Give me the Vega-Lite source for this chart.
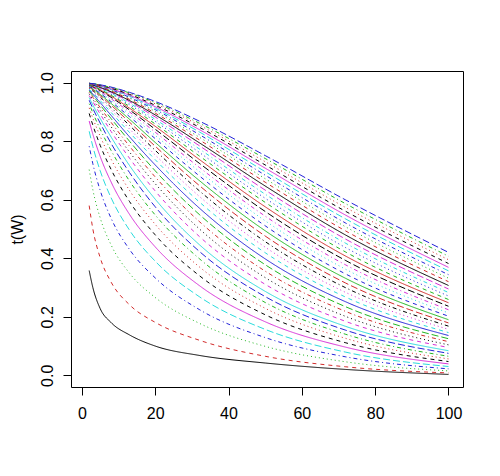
{
"$schema": "https://vega.github.io/schema/vega-lite/v6.json",
"width": 392, "height": 316,
"autosize": "none",
"padding": {"left": 71, "top": 71, "right": 37, "bottom": 89},
"background": "white",
"config": {"view": {"stroke": "black", "strokeWidth": 1}, "font": "Liberation Sans"},
"datasets": {"grid": [
{"c":1,"W":2,"t":0.358},{"c":1,"W":3,"t":0.300},{"c":1,"W":5,"t":0.228},{"c":1,"W":8,"t":0.180},{"c":1,"W":13,"t":0.138},{"c":1,"W":20,"t":0.100},{"c":1,"W":32,"t":0.068},{"c":1,"W":50,"t":0.042},{"c":1,"W":72,"t":0.020},{"c":1,"W":100,"t":0.003},
{"c":2,"W":2,"t":0.580},{"c":2,"W":3,"t":0.500},{"c":2,"W":5,"t":0.402},{"c":2,"W":8,"t":0.318},{"c":2,"W":13,"t":0.241},{"c":2,"W":20,"t":0.181},{"c":2,"W":32,"t":0.120},{"c":2,"W":50,"t":0.065},{"c":2,"W":72,"t":0.029},{"c":2,"W":100,"t":0.008},
{"c":3,"W":2,"t":0.703},{"c":3,"W":3,"t":0.634},{"c":3,"W":5,"t":0.538},{"c":3,"W":8,"t":0.445},{"c":3,"W":13,"t":0.349},{"c":3,"W":20,"t":0.266},{"c":3,"W":32,"t":0.178},{"c":3,"W":50,"t":0.099},{"c":3,"W":72,"t":0.046},{"c":3,"W":100,"t":0.015},
{"c":4,"W":2,"t":0.783},{"c":4,"W":3,"t":0.723},{"c":4,"W":5,"t":0.632},{"c":4,"W":8,"t":0.536},{"c":4,"W":13,"t":0.430},{"c":4,"W":20,"t":0.333},{"c":4,"W":32,"t":0.225},{"c":4,"W":50,"t":0.129},{"c":4,"W":72,"t":0.063},{"c":4,"W":100,"t":0.022},
{"c":5,"W":2,"t":0.834},{"c":5,"W":3,"t":0.782},{"c":5,"W":5,"t":0.699},{"c":5,"W":8,"t":0.606},{"c":5,"W":13,"t":0.496},{"c":5,"W":20,"t":0.390},{"c":5,"W":32,"t":0.269},{"c":5,"W":50,"t":0.157},{"c":5,"W":72,"t":0.079},{"c":5,"W":100,"t":0.030},
{"c":6,"W":2,"t":0.869},{"c":6,"W":3,"t":0.824},{"c":6,"W":5,"t":0.748},{"c":6,"W":8,"t":0.660},{"c":6,"W":13,"t":0.550},{"c":6,"W":20,"t":0.439},{"c":6,"W":32,"t":0.307},{"c":6,"W":50,"t":0.183},{"c":6,"W":72,"t":0.096},{"c":6,"W":100,"t":0.039},
{"c":7,"W":2,"t":0.895},{"c":7,"W":3,"t":0.855},{"c":7,"W":5,"t":0.786},{"c":7,"W":8,"t":0.703},{"c":7,"W":13,"t":0.594},{"c":7,"W":20,"t":0.480},{"c":7,"W":32,"t":0.341},{"c":7,"W":50,"t":0.207},{"c":7,"W":72,"t":0.111},{"c":7,"W":100,"t":0.047},
{"c":8,"W":2,"t":0.914},{"c":8,"W":3,"t":0.879},{"c":8,"W":5,"t":0.817},{"c":8,"W":8,"t":0.738},{"c":8,"W":13,"t":0.632},{"c":8,"W":20,"t":0.516},{"c":8,"W":32,"t":0.371},{"c":8,"W":50,"t":0.229},{"c":8,"W":72,"t":0.126},{"c":8,"W":100,"t":0.056},
{"c":9,"W":2,"t":0.928},{"c":9,"W":3,"t":0.897},{"c":9,"W":5,"t":0.841},{"c":9,"W":8,"t":0.768},{"c":9,"W":13,"t":0.664},{"c":9,"W":20,"t":0.548},{"c":9,"W":32,"t":0.399},{"c":9,"W":50,"t":0.249},{"c":9,"W":72,"t":0.140},{"c":9,"W":100,"t":0.065},
{"c":10,"W":2,"t":0.940},{"c":10,"W":3,"t":0.912},{"c":10,"W":5,"t":0.862},{"c":10,"W":8,"t":0.792},{"c":10,"W":13,"t":0.693},{"c":10,"W":20,"t":0.576},{"c":10,"W":32,"t":0.424},{"c":10,"W":50,"t":0.269},{"c":10,"W":72,"t":0.154},{"c":10,"W":100,"t":0.075},
{"c":11,"W":2,"t":0.949},{"c":11,"W":3,"t":0.924},{"c":11,"W":5,"t":0.878},{"c":11,"W":8,"t":0.814},{"c":11,"W":13,"t":0.717},{"c":11,"W":20,"t":0.602},{"c":11,"W":32,"t":0.447},{"c":11,"W":50,"t":0.287},{"c":11,"W":72,"t":0.167},{"c":11,"W":100,"t":0.084},
{"c":12,"W":2,"t":0.956},{"c":12,"W":3,"t":0.935},{"c":12,"W":5,"t":0.893},{"c":12,"W":8,"t":0.833},{"c":12,"W":13,"t":0.742},{"c":12,"W":20,"t":0.630},{"c":12,"W":32,"t":0.475},{"c":12,"W":50,"t":0.311},{"c":12,"W":72,"t":0.184},{"c":12,"W":100,"t":0.095},
{"c":13,"W":2,"t":0.962},{"c":13,"W":3,"t":0.943},{"c":13,"W":5,"t":0.905},{"c":13,"W":8,"t":0.849},{"c":13,"W":13,"t":0.763},{"c":13,"W":20,"t":0.655},{"c":13,"W":32,"t":0.501},{"c":13,"W":50,"t":0.334},{"c":13,"W":72,"t":0.201},{"c":13,"W":100,"t":0.104},
{"c":14,"W":2,"t":0.967},{"c":14,"W":3,"t":0.950},{"c":14,"W":5,"t":0.915},{"c":14,"W":8,"t":0.864},{"c":14,"W":13,"t":0.783},{"c":14,"W":20,"t":0.678},{"c":14,"W":32,"t":0.526},{"c":14,"W":50,"t":0.356},{"c":14,"W":72,"t":0.218},{"c":14,"W":100,"t":0.115},
{"c":15,"W":2,"t":0.972},{"c":15,"W":3,"t":0.956},{"c":15,"W":5,"t":0.924},{"c":15,"W":8,"t":0.877},{"c":15,"W":13,"t":0.800},{"c":15,"W":20,"t":0.699},{"c":15,"W":32,"t":0.550},{"c":15,"W":50,"t":0.378},{"c":15,"W":72,"t":0.234},{"c":15,"W":100,"t":0.125},
{"c":16,"W":2,"t":0.975},{"c":16,"W":3,"t":0.961},{"c":16,"W":5,"t":0.932},{"c":16,"W":8,"t":0.888},{"c":16,"W":13,"t":0.815},{"c":16,"W":20,"t":0.719},{"c":16,"W":32,"t":0.572},{"c":16,"W":50,"t":0.398},{"c":16,"W":72,"t":0.251},{"c":16,"W":100,"t":0.136},
{"c":17,"W":2,"t":0.978},{"c":17,"W":3,"t":0.966},{"c":17,"W":5,"t":0.939},{"c":17,"W":8,"t":0.898},{"c":17,"W":13,"t":0.830},{"c":17,"W":20,"t":0.737},{"c":17,"W":32,"t":0.593},{"c":17,"W":50,"t":0.419},{"c":17,"W":72,"t":0.267},{"c":17,"W":100,"t":0.146},
{"c":18,"W":2,"t":0.981},{"c":18,"W":3,"t":0.970},{"c":18,"W":5,"t":0.945},{"c":18,"W":8,"t":0.907},{"c":18,"W":13,"t":0.842},{"c":18,"W":20,"t":0.753},{"c":18,"W":32,"t":0.612},{"c":18,"W":50,"t":0.438},{"c":18,"W":72,"t":0.283},{"c":18,"W":100,"t":0.157},
{"c":19,"W":2,"t":0.983},{"c":19,"W":3,"t":0.973},{"c":19,"W":5,"t":0.951},{"c":19,"W":8,"t":0.915},{"c":19,"W":13,"t":0.854},{"c":19,"W":20,"t":0.769},{"c":19,"W":32,"t":0.631},{"c":19,"W":50,"t":0.457},{"c":19,"W":72,"t":0.299},{"c":19,"W":100,"t":0.168},
{"c":20,"W":2,"t":0.985},{"c":20,"W":3,"t":0.976},{"c":20,"W":5,"t":0.956},{"c":20,"W":8,"t":0.923},{"c":20,"W":13,"t":0.865},{"c":20,"W":20,"t":0.783},{"c":20,"W":32,"t":0.649},{"c":20,"W":50,"t":0.476},{"c":20,"W":72,"t":0.315},{"c":20,"W":100,"t":0.179},
{"c":21,"W":2,"t":0.987},{"c":21,"W":3,"t":0.978},{"c":21,"W":5,"t":0.960},{"c":21,"W":8,"t":0.929},{"c":21,"W":13,"t":0.875},{"c":21,"W":20,"t":0.796},{"c":21,"W":32,"t":0.666},{"c":21,"W":50,"t":0.494},{"c":21,"W":72,"t":0.331},{"c":21,"W":100,"t":0.190},
{"c":22,"W":2,"t":0.988},{"c":22,"W":3,"t":0.981},{"c":22,"W":5,"t":0.964},{"c":22,"W":8,"t":0.935},{"c":22,"W":13,"t":0.884},{"c":22,"W":20,"t":0.809},{"c":22,"W":32,"t":0.682},{"c":22,"W":50,"t":0.511},{"c":22,"W":72,"t":0.346},{"c":22,"W":100,"t":0.202},
{"c":23,"W":2,"t":0.990},{"c":23,"W":3,"t":0.983},{"c":23,"W":5,"t":0.967},{"c":23,"W":8,"t":0.940},{"c":23,"W":13,"t":0.892},{"c":23,"W":20,"t":0.820},{"c":23,"W":32,"t":0.697},{"c":23,"W":50,"t":0.528},{"c":23,"W":72,"t":0.362},{"c":23,"W":100,"t":0.213},
{"c":24,"W":2,"t":0.991},{"c":24,"W":3,"t":0.984},{"c":24,"W":5,"t":0.970},{"c":24,"W":8,"t":0.945},{"c":24,"W":13,"t":0.900},{"c":24,"W":20,"t":0.831},{"c":24,"W":32,"t":0.711},{"c":24,"W":50,"t":0.544},{"c":24,"W":72,"t":0.377},{"c":24,"W":100,"t":0.224},
{"c":25,"W":2,"t":0.992},{"c":25,"W":3,"t":0.986},{"c":25,"W":5,"t":0.973},{"c":25,"W":8,"t":0.950},{"c":25,"W":13,"t":0.907},{"c":25,"W":20,"t":0.841},{"c":25,"W":32,"t":0.725},{"c":25,"W":50,"t":0.560},{"c":25,"W":72,"t":0.392},{"c":25,"W":100,"t":0.236},
{"c":26,"W":2,"t":0.993},{"c":26,"W":3,"t":0.987},{"c":26,"W":5,"t":0.975},{"c":26,"W":8,"t":0.954},{"c":26,"W":13,"t":0.913},{"c":26,"W":20,"t":0.851},{"c":26,"W":32,"t":0.738},{"c":26,"W":50,"t":0.576},{"c":26,"W":72,"t":0.407},{"c":26,"W":100,"t":0.248},
{"c":27,"W":2,"t":0.993},{"c":27,"W":3,"t":0.989},{"c":27,"W":5,"t":0.977},{"c":27,"W":8,"t":0.957},{"c":27,"W":13,"t":0.919},{"c":27,"W":20,"t":0.859},{"c":27,"W":32,"t":0.750},{"c":27,"W":50,"t":0.591},{"c":27,"W":72,"t":0.421},{"c":27,"W":100,"t":0.259},
{"c":28,"W":2,"t":0.994},{"c":28,"W":3,"t":0.990},{"c":28,"W":5,"t":0.979},{"c":28,"W":8,"t":0.961},{"c":28,"W":13,"t":0.925},{"c":28,"W":20,"t":0.868},{"c":28,"W":32,"t":0.762},{"c":28,"W":50,"t":0.605},{"c":28,"W":72,"t":0.436},{"c":28,"W":100,"t":0.271},
{"c":29,"W":2,"t":0.995},{"c":29,"W":3,"t":0.991},{"c":29,"W":5,"t":0.981},{"c":29,"W":8,"t":0.964},{"c":29,"W":13,"t":0.930},{"c":29,"W":20,"t":0.875},{"c":29,"W":32,"t":0.774},{"c":29,"W":50,"t":0.619},{"c":29,"W":72,"t":0.451},{"c":29,"W":100,"t":0.283},
{"c":30,"W":2,"t":0.995},{"c":30,"W":3,"t":0.992},{"c":30,"W":5,"t":0.983},{"c":30,"W":8,"t":0.967},{"c":30,"W":13,"t":0.935},{"c":30,"W":20,"t":0.883},{"c":30,"W":32,"t":0.785},{"c":30,"W":50,"t":0.633},{"c":30,"W":72,"t":0.465},{"c":30,"W":100,"t":0.295},
{"c":31,"W":2,"t":0.996},{"c":31,"W":3,"t":0.992},{"c":31,"W":5,"t":0.984},{"c":31,"W":8,"t":0.969},{"c":31,"W":13,"t":0.939},{"c":31,"W":20,"t":0.890},{"c":31,"W":32,"t":0.795},{"c":31,"W":50,"t":0.647},{"c":31,"W":72,"t":0.479},{"c":31,"W":100,"t":0.307},
{"c":32,"W":2,"t":0.996},{"c":32,"W":3,"t":0.993},{"c":32,"W":5,"t":0.986},{"c":32,"W":8,"t":0.972},{"c":32,"W":13,"t":0.943},{"c":32,"W":20,"t":0.896},{"c":32,"W":32,"t":0.805},{"c":32,"W":50,"t":0.660},{"c":32,"W":72,"t":0.493},{"c":32,"W":100,"t":0.320},
{"c":33,"W":2,"t":0.997},{"c":33,"W":3,"t":0.994},{"c":33,"W":5,"t":0.987},{"c":33,"W":8,"t":0.974},{"c":33,"W":13,"t":0.947},{"c":33,"W":20,"t":0.902},{"c":33,"W":32,"t":0.814},{"c":33,"W":50,"t":0.672},{"c":33,"W":72,"t":0.507},{"c":33,"W":100,"t":0.332},
{"c":34,"W":2,"t":0.997},{"c":34,"W":3,"t":0.994},{"c":34,"W":5,"t":0.988},{"c":34,"W":8,"t":0.976},{"c":34,"W":13,"t":0.950},{"c":34,"W":20,"t":0.908},{"c":34,"W":32,"t":0.823},{"c":34,"W":50,"t":0.684},{"c":34,"W":72,"t":0.520},{"c":34,"W":100,"t":0.344},
{"c":35,"W":2,"t":0.997},{"c":35,"W":3,"t":0.995},{"c":35,"W":5,"t":0.989},{"c":35,"W":8,"t":0.978},{"c":35,"W":13,"t":0.954},{"c":35,"W":20,"t":0.913},{"c":35,"W":32,"t":0.832},{"c":35,"W":50,"t":0.696},{"c":35,"W":72,"t":0.534},{"c":35,"W":100,"t":0.357},
{"c":36,"W":2,"t":0.998},{"c":36,"W":3,"t":0.995},{"c":36,"W":5,"t":0.990},{"c":36,"W":8,"t":0.979},{"c":36,"W":13,"t":0.957},{"c":36,"W":20,"t":0.918},{"c":36,"W":32,"t":0.840},{"c":36,"W":50,"t":0.708},{"c":36,"W":72,"t":0.547},{"c":36,"W":100,"t":0.369},
{"c":37,"W":2,"t":0.998},{"c":37,"W":3,"t":0.996},{"c":37,"W":5,"t":0.991},{"c":37,"W":8,"t":0.981},{"c":37,"W":13,"t":0.960},{"c":37,"W":20,"t":0.923},{"c":37,"W":32,"t":0.848},{"c":37,"W":50,"t":0.719},{"c":37,"W":72,"t":0.560},{"c":37,"W":100,"t":0.382},
{"c":38,"W":2,"t":0.998},{"c":38,"W":3,"t":0.996},{"c":38,"W":5,"t":0.991},{"c":38,"W":8,"t":0.982},{"c":38,"W":13,"t":0.962},{"c":38,"W":20,"t":0.928},{"c":38,"W":32,"t":0.855},{"c":38,"W":50,"t":0.730},{"c":38,"W":72,"t":0.573},{"c":38,"W":100,"t":0.395},
{"c":39,"W":2,"t":0.998},{"c":39,"W":3,"t":0.997},{"c":39,"W":5,"t":0.992},{"c":39,"W":8,"t":0.984},{"c":39,"W":13,"t":0.965},{"c":39,"W":20,"t":0.932},{"c":39,"W":32,"t":0.862},{"c":39,"W":50,"t":0.741},{"c":39,"W":72,"t":0.586},{"c":39,"W":100,"t":0.407},
{"c":40,"W":2,"t":0.998},{"c":40,"W":3,"t":0.997},{"c":40,"W":5,"t":0.993},{"c":40,"W":8,"t":0.985},{"c":40,"W":13,"t":0.967},{"c":40,"W":20,"t":0.936},{"c":40,"W":32,"t":0.869},{"c":40,"W":50,"t":0.751},{"c":40,"W":72,"t":0.599},{"c":40,"W":100,"t":0.420}
]},
"data": {"name": "grid"},
"mark": {"type": "line", "strokeWidth": 1, "interpolate": "monotone", "clip": true},
"encoding": {
"x": {"field": "W", "type": "quantitative",
"scale": {"domain": [-2.96, 103.96], "nice": false, "zero": false},
"axis": {"values": [0, 20, 40, 60, 80, 100], "title": null, "grid": false, "domain": false, "tickSize": 8, "tickColor": "black", "labelColor": "black", "labelFontSize": 16, "labelFont": "Liberation Sans", "labelPadding": 10, "labelFlush": false}},
"y": {"field": "t", "type": "quantitative",
"scale": {"domain": [-0.04, 1.04], "nice": false, "zero": false},
"axis": {"values": [0, 0.2, 0.4, 0.6, 0.8, 1.0], "format": ".1f", "title": "t(W)", "grid": false, "domain": false, "tickSize": 8, "tickColor": "black", "labelColor": "black", "labelFontSize": 16, "labelFont": "Liberation Sans", "labelAngle": -90, "labelAlign": "center", "labelBaseline": "bottom", "labelPadding": 8, "labelFlush": false,
"titleFont": "Liberation Sans", "titleFontSize": 16, "titleFontWeight": "normal", "titleColor": "black", "titleAngle": -90, "titleX": -54, "titleY": 158, "titleAlign": "center", "titleBaseline": "middle"}},
"color": {"field": "c", "type": "nominal", "legend": null,
"scale": {"domain": [1,2,3,4,5,6,7,8,9,10,11,12,13,14,15,16,17,18,19,20,21,22,23,24,25,26,27,28,29,30,31,32,33,34,35,36,37,38,39,40],
"range": ["#000000", "#D22B2B", "#22B822", "#2323D8", "#2ADCDC", "#D830D8"]}},
"strokeDash": {"field": "c", "type": "nominal", "legend": null,
"scale": {"domain": [1,2,3,4,5,6,7,8,9,10,11,12,13,14,15,16,17,18,19,20,21,22,23,24,25,26,27,28,29,30,31,32,33,34,35,36,37,38,39,40],
"range": [[1, 0], [4, 4], [1, 3], [1, 3, 4, 3], [7, 3]]}}
}
}
